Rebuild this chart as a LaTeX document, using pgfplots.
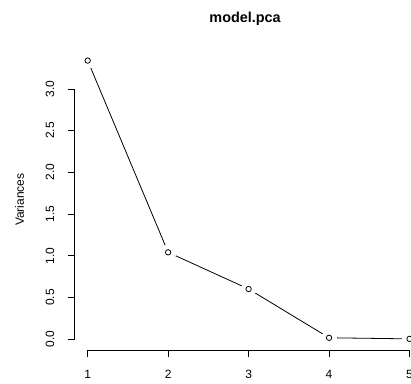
\documentclass[border=0pt]{standalone}
\usepackage{fontspec}
\setmainfont{Liberation Sans}
\usepackage{pgfplots}
\pgfplotsset{compat=1.18}
\begin{document}
\begin{tikzpicture}[x=1pt,y=1pt]
\begin{axis}[
  at={(74.8pt,32.8pt)}, anchor=south west,
  scale only axis, width=347.6pt, height=301.2pt,
  xmin=0.84, xmax=5.16, ymin=-0.134, ymax=3.479,
  clip=false,
  axis line style={draw=none},
  tick pos=left, tick align=outside,
  major tick length=7pt,
  tick style={black, line width=0.8pt},
  xtick={1,2,3,4,5},
  ytick={0,0.5,1,1.5,2,2.5,3},
  /pgf/number format/assume math mode=true,
  yticklabel={\pgfmathprintnumber[fixed,fixed zerofill,precision=1]{\tick}},
  xticklabel={\pgfmathprintnumber[fixed,precision=0]{\tick}},
  ticklabel style={font=\fontsize{12}{14.4}\selectfont, inner sep=0pt},
  yticklabel style={rotate=90, anchor=south},
  xticklabel style={anchor=north},
  yticklabel shift=13.3pt,
  xticklabel shift=12.5pt,
  ylabel={Variances},
  ylabel style={at={(rel axis cs:-0.159,0.5)}, anchor=center, rotate=0, inner sep=0pt, font=\fontsize{12}{14.4}\selectfont},
  title={model.pca},
  title style={at={(rel axis cs:0.5,1)}, anchor=base, yshift=20.5pt, xshift=-3.5pt, inner sep=0pt, font=\bfseries\fontsize{14.4}{17}\selectfont},
]
\addplot[black, line width=0.8pt, mark=none] coordinates {
  (1,3.34) (2,1.04) (3,0.60) (4,0.015) (5,0.002)
};
\addplot[white, only marks, mark=*, mark size=7.5pt, mark options={fill=white, draw=white, line width=0pt}] coordinates {
  (1,3.34) (2,1.04) (3,0.60) (4,0.015) (5,0.002)
};
\addplot[black, only marks, mark=o, mark size=2.7pt, mark options={draw=black, line width=0.8pt, fill=none}] coordinates {
  (1,3.34) (2,1.04) (3,0.60) (4,0.015) (5,0.002)
};
\draw[line width=0.8pt] (axis cs:1,-0.134) -- (axis cs:5,-0.134);
\draw[line width=0.8pt] (axis cs:0.84,0) -- (axis cs:0.84,3);
\end{axis}
\pgfresetboundingbox
\path (0pt,0pt) rectangle (411pt,383pt);
\end{tikzpicture}
\end{document}
